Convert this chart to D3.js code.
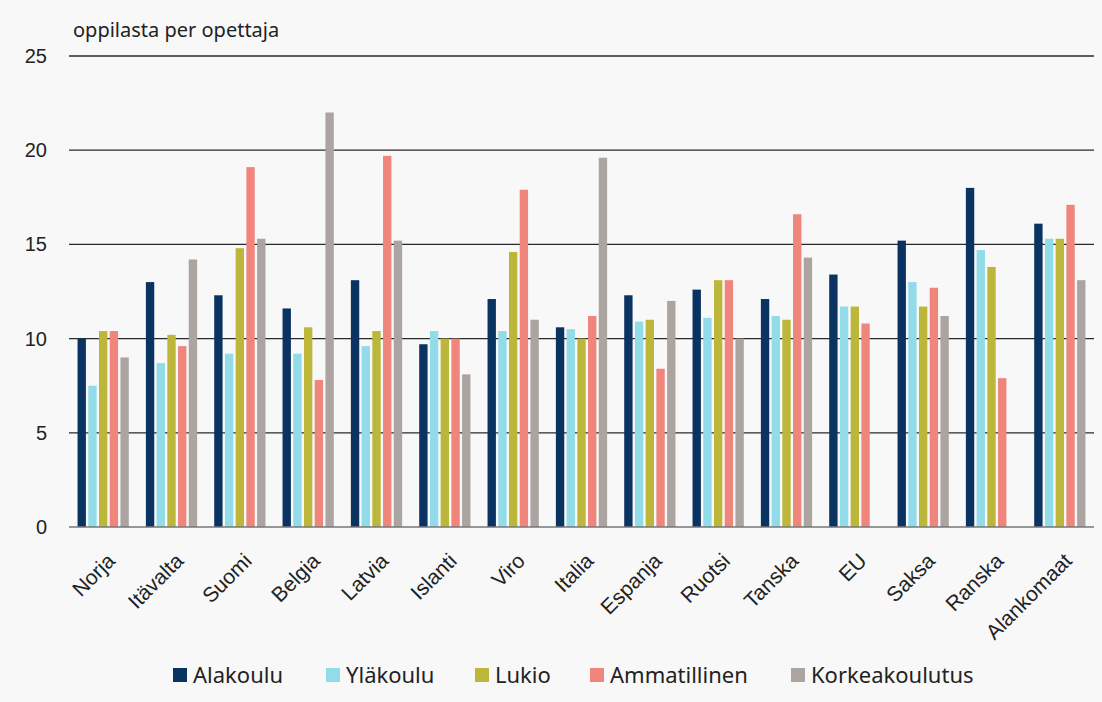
<!DOCTYPE html>
<html>
<head>
<meta charset="utf-8">
<script src="https://cdn.jsdelivr.net/npm/d3@7"></script>
<style>
  body { margin: 0; background: #f8f8f8; }
  svg { display: block; font-family: "Noto Sans", sans-serif; }
</style>
</head>
<body>
<svg id="chart" width="1102" height="702"></svg>
<script>
// Categories and series
const countries = ["Norja", "Itävalta", "Suomi", "Belgia", "Latvia", "Islanti", "Viro", "Italia",
  "Espanja", "Ruotsi", "Tanska", "EU", "Saksa", "Ranska", "Alankomaat"];
const seriesNames = ["Alakoulu", "Yläkoulu", "Lukio", "Ammatillinen", "Korkeakoulutus"];
const alakoulu     = [10.0, 13.0, 12.3, 11.6, 13.1, 9.7, 12.1, 10.6, 12.3, 12.6, 12.1, 13.4, 15.2, 18.0, 16.1];
const ylakoulu     = [7.5, 8.7, 9.2, 9.2, 9.6, 10.4, 10.4, 10.5, 10.9, 11.1, 11.2, 11.7, 13.0, 14.7, 15.3];
const lukio        = [10.4, 10.2, 14.8, 10.6, 10.4, 10.0, 14.6, 10.0, 11.0, 13.1, 11.0, 11.7, 11.7, 13.8, 15.3];
const ammatillinen = [10.4, 9.6, 19.1, 7.8, 19.7, 10.0, 17.9, 11.2, 8.4, 13.1, 16.6, 10.8, 12.7, 7.9, 17.1];
const korkea       = [9.0, 14.2, 15.3, 22.0, 15.2, 8.1, 11.0, 19.6, 12.0, 10.0, 14.3, null, 11.2, null, 13.1];
const yTicks = [0, 5, 10, 15, 20, 25];
const colors = ["#0b3361", "#92dbe8", "#bcb73b", "#ef857b", "#aba4a0"];

const seriesValues = [alakoulu, ylakoulu, lukio, ammatillinen, korkea];

const svg = d3.select("#chart");
const plotLeft = 69, plotRight = 1094, plotTop = 56, plotBottom = 527;

const x0 = d3.scaleBand().domain(countries).range([plotLeft, plotRight]).paddingInner(0.25).paddingOuter(0.125);
const x1 = d3.scaleBand().domain(seriesNames).range([0, x0.bandwidth()]).paddingInner(0.22);
const y = d3.scaleLinear().domain([0, 25]).range([plotBottom, plotTop]);
const color = d3.scaleOrdinal().domain(seriesNames).range(colors);

// Gridlines
svg.append("g").selectAll("line")
  .data(yTicks.filter(t => t > 0))
  .enter().append("line")
  .attr("x1", plotLeft).attr("x2", plotRight)
  .attr("y1", d => y(d)).attr("y2", d => y(d))
  .attr("stroke", "#2a2a2a").attr("stroke-width", 1.3);

// Y tick labels
svg.append("g").selectAll("text")
  .data(yTicks)
  .enter().append("text")
  .attr("x", 47).attr("y", d => y(d))
  .attr("dy", "0.35em")
  .attr("text-anchor", "end")
  .attr("font-family", "Liberation Sans, Arial, sans-serif")
  .attr("font-size", 20)
  .attr("fill", "#222")
  .text(d => d);

// Bars
const groups = svg.append("g").selectAll("g")
  .data(countries)
  .enter().append("g")
  .attr("transform", d => `translate(${x0(d)},0)`);

groups.selectAll("rect")
  .data((c, i) => seriesNames.map((s, j) => ({ s: s, v: seriesValues[j][i] })).filter(d => d.v != null))
  .enter().append("rect")
  .attr("x", d => x1(d.s))
  .attr("width", x1.bandwidth())
  .attr("y", d => y(d.v))
  .attr("height", d => y(0) - y(d.v))
  .attr("fill", d => color(d.s));

// Baseline
svg.append("line")
  .attr("x1", plotLeft).attr("x2", plotRight)
  .attr("y1", y(0)).attr("y2", y(0))
  .attr("stroke", "#777").attr("stroke-width", 1.3);

// X labels, rotated
svg.append("g").selectAll("text")
  .data(countries)
  .enter().append("text")
  .attr("transform", d => `translate(${x0(d) + x0.bandwidth() / 2 + 8},${plotBottom + 30}) rotate(-45)`)
  .attr("text-anchor", "end")
  .attr("dy", "0.35em")
  .attr("font-family", "Liberation Sans, Arial, sans-serif")
  .attr("font-size", 21)
  .attr("fill", "#222")
  .text(d => d);

// Axis title
svg.append("text")
  .attr("x", 73).attr("y", 37)
  .attr("font-size", 20)
  .attr("fill", "#222")
  .text("oppilasta per opettaja");

// Legend
const legendX = [173, 326, 475, 590, 791];
const legend = svg.append("g").selectAll("g")
  .data(seriesNames)
  .enter().append("g")
  .attr("transform", (d, i) => `translate(${legendX[i]},675)`);
legend.append("rect")
  .attr("x", 0).attr("y", -7).attr("width", 14).attr("height", 14)
  .attr("fill", d => color(d));
legend.append("text")
  .attr("x", 20).attr("y", 8)
  .attr("font-size", 22)
  .attr("fill", "#222")
  .text(d => d);
</script>
</body>
</html>
